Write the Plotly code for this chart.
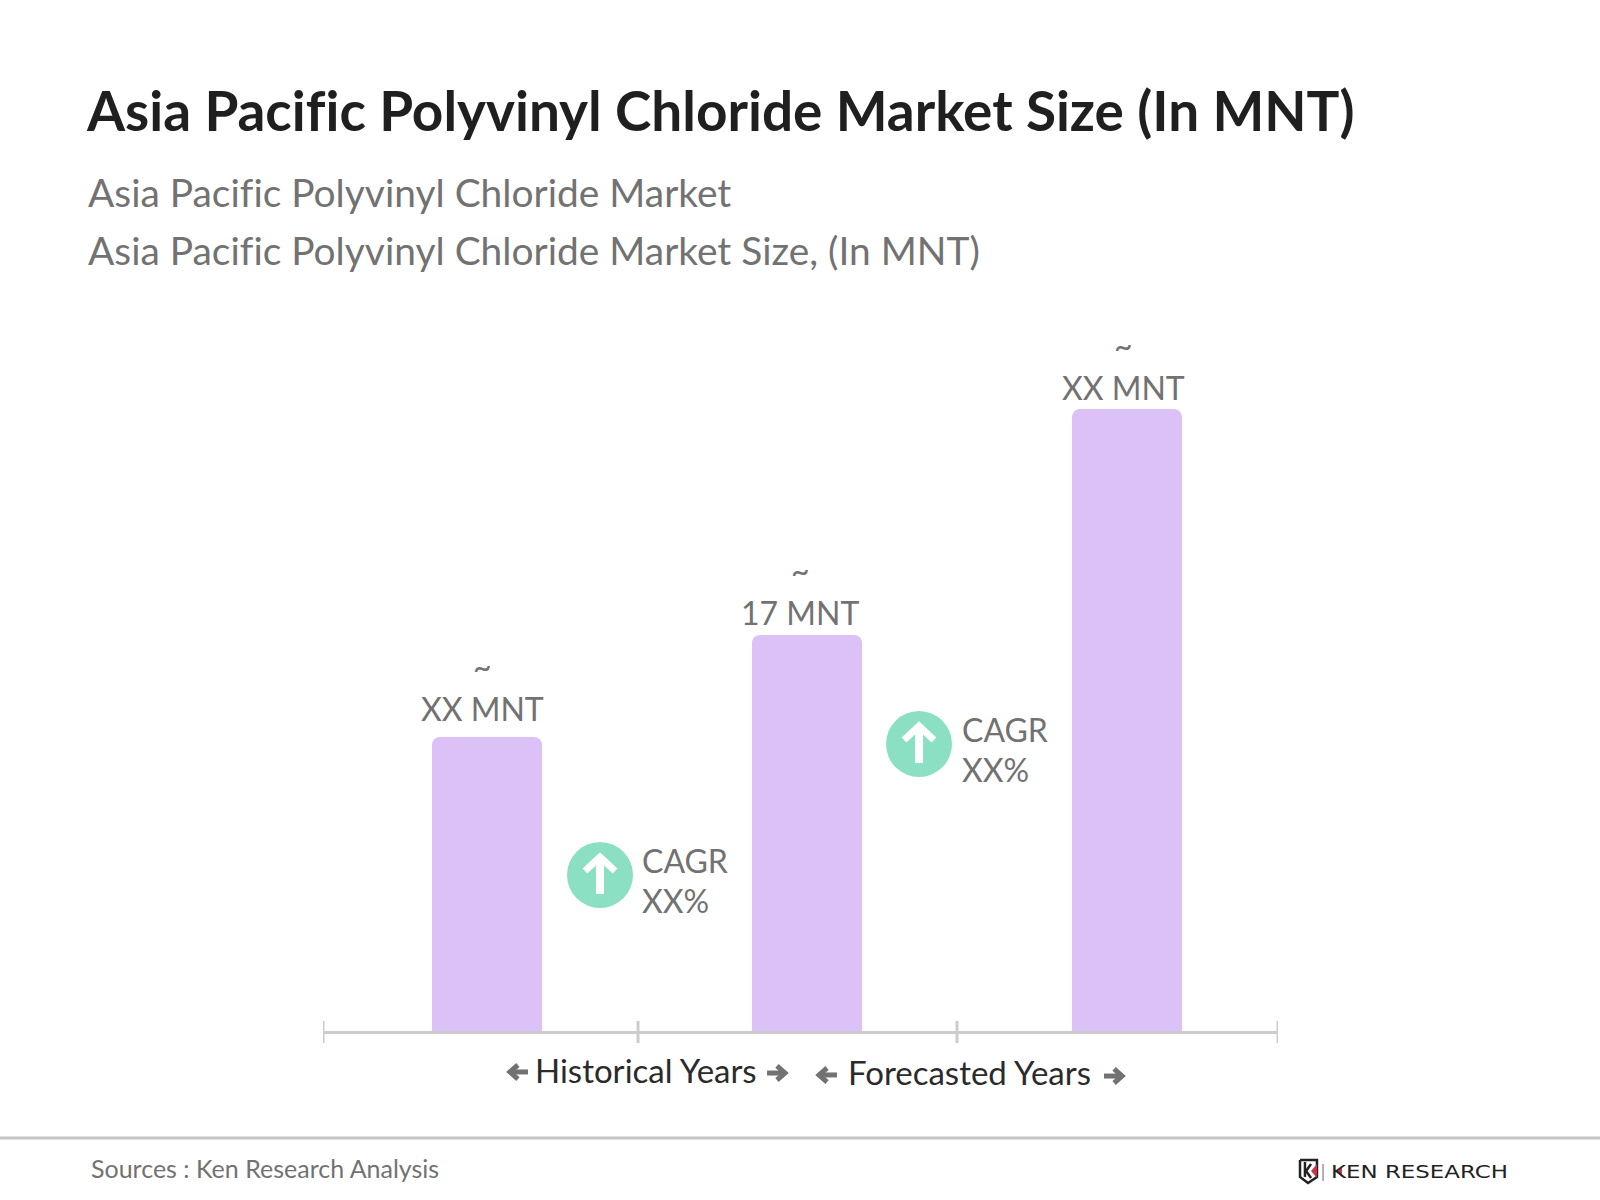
import plotly.graph_objects as go

W, H = 1600, 1200

# data (17 is printed, the others scaled from bar height)
categories = ["Year 1", "Year 2", "Year 3"]
values = [12.62, 17, 26.7]
bar_labels = ["~<br>XX MNT", "~<br>17 MNT", "~<br>XX MNT"]
label_dx = [-4, -7, -3]
label_dy = [7, 1, 0]
axis_ticks = [-0.5125, 0.472, 1.469, 2.472]

BAR = "#dcc1f7"
GREEN = "#8bdfc2"
GREY = "#727272"
LINE = "#cccccc"
FONT = "Lato"


def px(x):
    return x / W


def py(y):
    return 1 - y / H


def text(x, y, s, size, color=GREY, anchor="left", bold=False, family=FONT):
    return dict(x=px(x), y=py(y), xref="paper", yref="paper", text="<b>%s</b>" % s if bold else s,
                showarrow=False, xanchor=anchor, yanchor="middle", align=anchor,
                font=dict(size=size, color=color, family=family))


def poly(points, color, width, fill=None):
    d = "M" + " L".join("%.4f,%.4f" % (px(a), py(b)) for a, b in points)
    if fill:
        d += " Z"
    return dict(type="path", path=d, xref="paper", yref="paper", fillcolor=fill,
                line=dict(color=color, width=width), layer="above")


fig = go.Figure()
fig.add_trace(go.Bar(x=categories, y=values, marker=dict(color=BAR, cornerradius=8, line_width=0),
                     width=0.344, hoverinfo="skip"))

annots = [
    text(84, 110, "Asia Pacific Polyvinyl Chloride Market Size (In MNT)", 54.9, "#1f1f1f", bold=True),
    text(86, 192, "Asia Pacific Polyvinyl Chloride Market", 38.9),
    text(86, 250, "Asia Pacific Polyvinyl Chloride Market Size, (In MNT)", 38.9),
    text(640, 860, "CAGR", 32),
    text(640, 900, "XX%", 32),
    text(960, 729, "CAGR", 32),
    text(960, 769, "XX%", 32),
    text(533, 1070, "Historical Years", 33, "#2b2b2b"),
    text(846, 1072, "Forecasted Years", 33, "#2b2b2b"),
    text(89, 1168, "Sources : Ken Research Analysis", 25),
    text(1329, 1172, "KEN RESEARCH", 17, "#222222", family="DejaVu Sans"),
]
for cat, val, lab, dx, dy in zip(categories, values, bar_labels, label_dx, label_dy):
    annots.append(dict(x=cat, y=val, xref="x", yref="y", text=lab, showarrow=False, xanchor="center",
                       yanchor="bottom", xshift=dx, yshift=dy, font=dict(size=32, color=GREY, family=FONT)))

shapes = [dict(type="line", xref="x", yref="paper", x0=t, x1=t, y0=py(1021), y1=py(1043),
               line=dict(color=LINE, width=3)) for t in axis_ticks]
shapes.append(dict(type="line", xref="paper", yref="paper", x0=0, x1=1, y0=py(1138), y1=py(1138),
                   line=dict(color="#c4c4c4", width=3)))

# CAGR badges
for cx, cy in [(600, 875), (919, 744)]:
    shapes.append(dict(type="circle", xref="paper", yref="paper", fillcolor=GREEN, line_width=0,
                       x0=px(cx - 33), x1=px(cx + 33), y0=py(cy - 33), y1=py(cy + 33)))
    shapes.append(poly([(cx, cy + 19), (cx, cy - 17)], "white", 8))
    shapes.append(poly([(cx - 15, cy - 4), (cx, cy - 18), (cx + 15, cy - 4)], "white", 7))

# small arrows next to the year labels
for x0, x1, y in [(510, 528, 1072), (785, 767, 1073), (819, 837, 1075), (1122, 1104, 1076)]:
    d = 1 if x1 > x0 else -1
    shapes.append(poly([(x0, y), (x1, y)], GREY, 5))
    shapes.append(poly([(x0 + d * 8, y - 7), (x0, y), (x0 + d * 8, y + 7)], GREY, 5))

# logo mark
shapes.append(poly([(1300, 1160), (1317, 1160), (1317, 1177), (1308, 1183), (1300, 1177), (1300, 1160)], "#222222", 2.5))
shapes.append(poly([(1305, 1162), (1305, 1177)], "#222222", 2.5))
shapes.append(poly([(1311, 1164), (1306, 1171), (1311, 1178)], "#222222", 2.5))
shapes.append(poly([(1317, 1164), (1311, 1171), (1317, 1178)], "#cc3344", 0, fill="#cc3344"))
shapes.append(poly([(1323, 1164), (1323, 1181)], "#999999", 1.5))
shapes.append(poly([(1342, 1167), (1337, 1172), (1342, 1177)], "#cc3344", 0, fill="#cc3344"))

fig.update_layout(
    width=W, height=H, margin=dict(l=0, r=0, t=0, b=0), paper_bgcolor="white", plot_bgcolor="white",
    showlegend=False, annotations=annots, shapes=shapes,
    xaxis=dict(domain=[px(323), px(1278)], type="category", range=[axis_ticks[0], axis_ticks[-1]],
               showticklabels=False, ticks="", showgrid=False, zeroline=False, showline=True,
               linecolor=LINE, linewidth=3),
    yaxis=dict(domain=[py(1031), 1], range=[0, 44.26], visible=False),
)

# drop the page margin, turn off ligatures and stretch the logo wordmark, which is an extended face
post = """
document.body.style.margin = '0';
document.querySelectorAll('.annotation-text').forEach(function (t) {
    t.style.fontVariantLigatures = 'none';
    if (t.textContent === 'KEN RESEARCH') {
        t.setAttribute('textLength', '177');
        t.setAttribute('lengthAdjust', 'spacingAndGlyphs');
    }
});
"""
fig.write_html("out.html", post_script=post, config=dict(displayModeBar=False))
